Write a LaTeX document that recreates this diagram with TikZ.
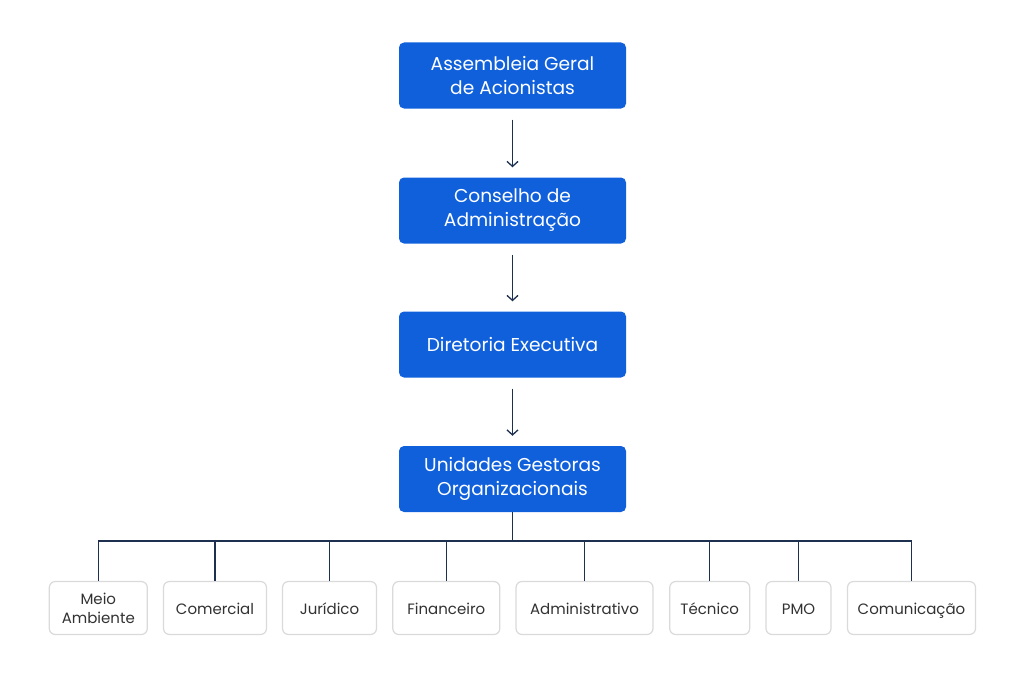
\documentclass[tikz,border=0pt]{standalone}
\usepackage{fontspec}
\setmainfont{Poppins}
\usetikzlibrary{arrows.meta}
\definecolor{boxblue}{RGB}{16,96,220}
\definecolor{linenavy}{RGB}{30,48,80}
\definecolor{unitgray}{RGB}{218,218,218}
\definecolor{unittext}{RGB}{50,50,50}
\begin{document}
\begin{tikzpicture}[x=1pt,y=-1pt,
    topbox/.style={fill=boxblue, rounded corners=5pt, minimum width=227pt, minimum height=66pt,
      text=white, align=center, font=\fontsize{18.6}{24}\selectfont, inner sep=0pt},
    unitbox/.style={draw=unitgray, line width=1.2pt, fill=white, rounded corners=6pt, minimum height=53pt,
      text=unittext, align=center, font=\fontsize{15}{19}\selectfont, inner sep=0pt},
    oneline/.style={text height=13.5pt, text depth=1.5pt},
    link/.style={draw=linenavy, line width=1.3pt},
    flow/.style={link, -{Straight Barb[length=5pt,width=11pt]}, shorten <=11pt, shorten >=10pt}]
  \useasboundingbox (0,0) rectangle (1024,677);
  % Main chain
  \node[topbox] (assembleia) at (512.5,75.5) {Assembleia Geral\\de Acionistas};
  \node[topbox] (conselho) at (512.5,210.5) {Conselho de\\Administração};
  \node[topbox] (diretoria) at (512.5,344.5) {Diretoria Executiva};
  \node[topbox] (unidades) at (512.5,479) {Unidades Gestoras\\Organizacionais};
  \draw[flow] (assembleia) -- (conselho);
  \draw[flow] (conselho) -- (diretoria);
  \draw[flow] (diretoria) -- (unidades);
  % Units
  \node[unitbox, minimum width=98pt] (meio) at (98.3,608) {Meio\\Ambiente};
  \node[unitbox, oneline, minimum width=103pt] (comercial) at (215,608) {Comercial};
  \node[unitbox, oneline, minimum width=94pt] (juridico) at (329.5,608) {Jurídico};
  \node[unitbox, oneline, minimum width=107pt] (financeiro) at (446.3,608) {Financeiro};
  \node[unitbox, oneline, minimum width=137pt] (administrativo) at (584.5,608) {Administrativo};
  \node[unitbox, oneline, minimum width=80pt] (tecnico) at (709.7,608) {Técnico};
  \node[unitbox, oneline, minimum width=65pt] (pmo) at (798.5,608) {PMO};
  \node[unitbox, oneline, minimum width=128pt] (comunicacao) at (911.5,608) {Comunicação};
  % Bus lines
  \coordinate (bus) at (512.5,541);
  \draw[link] (unidades.south) -- (bus);
  \draw[link] (meio.north) -- (meio.north |- bus) -- (comunicacao.north |- bus) -- (comunicacao.north);
  \draw[link] (comercial.north) -- (comercial.north |- bus);
  \draw[link] (juridico.north) -- (juridico.north |- bus);
  \draw[link] (financeiro.north) -- (financeiro.north |- bus);
  \draw[link] (administrativo.north) -- (administrativo.north |- bus);
  \draw[link] (tecnico.north) -- (tecnico.north |- bus);
  \draw[link] (pmo.north) -- (pmo.north |- bus);
\end{tikzpicture}
\end{document}
